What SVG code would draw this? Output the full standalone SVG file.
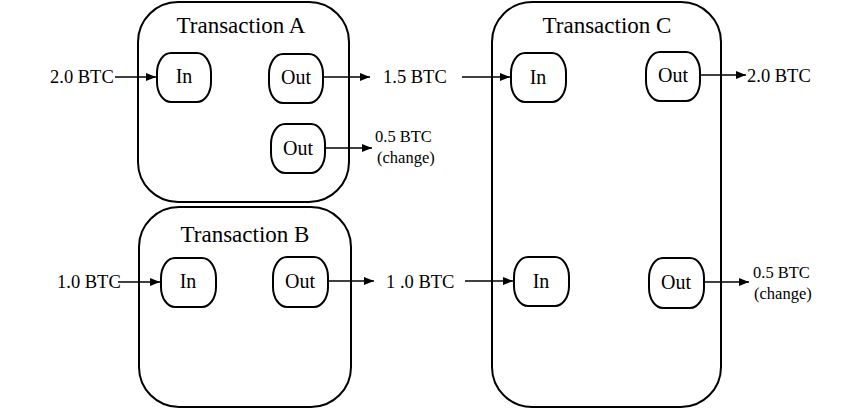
<svg xmlns="http://www.w3.org/2000/svg" width="850" height="409" viewBox="0 0 850 409">
<style>
.tx{fill:none;stroke:#000;stroke-width:2}
.port{fill:#fff;stroke:#000;stroke-width:2}
.title{font-family:"Liberation Serif",serif;font-size:23px;text-anchor:middle;fill:#000}
.pl{font-family:"Liberation Serif",serif;font-size:20px;text-anchor:middle;fill:#000}
.amt{font-family:"Liberation Serif",serif;font-size:18.5px;fill:#000}
.sm{font-family:"Liberation Serif",serif;font-size:16.5px;fill:#000}
.c{stroke:#000;stroke-width:1.3;fill:none;marker-end:url(#ah)}
</style>
<defs>
<marker id="ah" viewBox="0 0 10 8" refX="10" refY="4" markerWidth="10" markerHeight="8" markerUnits="userSpaceOnUse" orient="auto">
<path d="M0,0 L10,4 L0,8 Z" fill="#000"/>
</marker>
</defs>
<rect width="850" height="409" fill="#fff"/>
<g id="txA">
<rect class="tx" x="138" y="2" width="211" height="200" rx="40"/>
<text class="title" x="241" y="33">Transaction A</text>
</g>
<g id="A_in"><rect class="port" x="157" y="53" width="54" height="49" rx="14" ry="20"/><text class="pl" x="184" y="83">In</text></g>
<g id="A_out1"><rect class="port" x="269" y="54" width="54" height="49" rx="14" ry="20"/><text class="pl" x="296" y="84">Out</text></g>
<g id="A_out2"><rect class="port" x="271" y="124" width="54" height="49" rx="14" ry="20"/><text class="pl" x="298" y="155">Out</text></g>
<g id="txB">
<rect class="tx" x="139" y="207" width="212" height="200" rx="40"/>
<text class="title" x="245" y="242">Transaction B</text>
</g>
<g id="B_in"><rect class="port" x="161" y="258" width="55" height="49" rx="14" ry="20"/><text class="pl" x="188" y="288">In</text></g>
<g id="B_out"><rect class="port" x="273" y="257" width="55" height="50" rx="14" ry="20"/><text class="pl" x="300" y="288">Out</text></g>
<g id="txC">
<rect class="tx" x="492" y="2" width="229" height="405" rx="40"/>
<text class="title" x="607" y="33">Transaction C</text>
</g>
<g id="C_in1"><rect class="port" x="511" y="53" width="55" height="49" rx="14" ry="20"/><text class="pl" x="538" y="84">In</text></g>
<g id="C_out1"><rect class="port" x="646" y="52" width="54" height="49" rx="14" ry="20"/><text class="pl" x="673" y="82">Out</text></g>
<g id="C_in2"><rect class="port" x="514" y="257" width="55" height="49" rx="14" ry="20"/><text class="pl" x="541" y="288">In</text></g>
<g id="C_out2"><rect class="port" x="649" y="258" width="55" height="50" rx="14" ry="20"/><text class="pl" x="676" y="289">Out</text></g>
<g id="labels">
<text class="amt" x="50" y="83">2.0 BTC</text>
<text class="amt" x="383" y="83">1.5 BTC</text>
<text class="sm" x="375" y="142">0.5 BTC</text>
<text class="sm" x="377" y="163">(change)</text>
<text class="amt" x="57" y="288">1.0 BTC</text>
<text class="amt" x="386" y="288">1 .0 BTC</text>
<text class="amt" x="747" y="82">2.0 BTC</text>
<text class="sm" x="753" y="278">0.5 BTC</text>
<text class="sm" x="754" y="299">(change)</text>
</g>
<g id="connectors">
<path class="c" d="M115,77 H156"/>
<path class="c" d="M323,77 H370"/>
<path class="c" d="M325,148 H372"/>
<path class="c" d="M118,282 H160"/>
<path class="c" d="M328,281 H374"/>
<path class="c" d="M462,77 H510"/>
<path class="c" d="M465,281 H513"/>
<path class="c" d="M700,75 H746"/>
<path class="c" d="M704,282 H749"/>
</g>
</svg>
